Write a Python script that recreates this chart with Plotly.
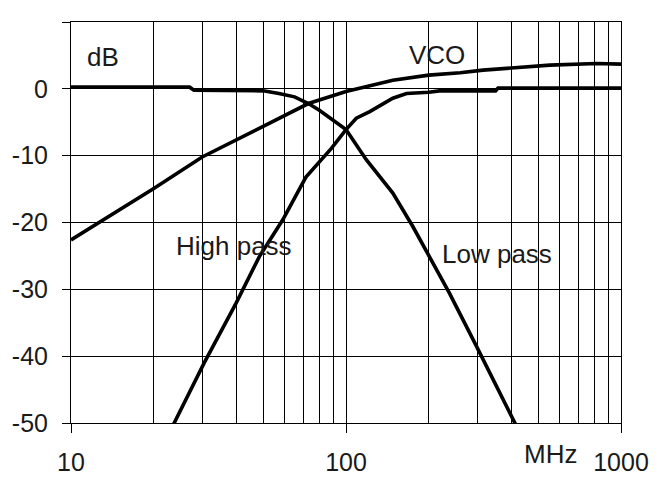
import plotly.graph_objects as go

# ---- data ----
vco_f  = [10, 20, 30, 40, 50, 60, 73, 100, 148, 200, 260, 315, 394, 551, 815, 1000]
vco_db = [-22.6, -14.9, -10.2, -7.6, -5.7, -4.0, -2.2, -0.4, 1.3, 2.05, 2.4, 2.8, 3.1, 3.55, 3.8, 3.7]

low_f  = [10, 27, 28, 50, 57, 65, 73, 80, 100, 118.5, 148, 175, 201, 238, 298, 352, 417]
low_db = [0.25, 0.25, -0.2, -0.3, -0.7, -1.2, -2.2, -3.2, -6.1, -10.6, -15.6, -20.6, -25.1, -30.6, -38.5, -44.5, -50.5]

high_f  = [23.4, 30.5, 39.8, 48.4, 58.9, 71.5, 88.5, 100, 109, 122, 148, 166, 200, 219, 350, 357, 1000]
high_db = [-50.5, -41.0, -32.1, -25.1, -19.6, -13.2, -8.9, -6.1, -4.4, -3.4, -1.4, -0.7, -0.5, -0.3, -0.3, 0.1, 0.1]

x_major = [10, 100, 1000]
x_major_text = ["10", "100", "1000"]
x_minor = [20, 30, 40, 50, 60, 70, 80, 90, 200, 300, 400, 500, 600, 700, 800, 900]
y_ticks = [10, 0, -10, -20, -30, -40, -50]
y_tick_text = ["10", "0", "-10", "-20", "-30", "-40", "-50"]

FONT = "Liberation Sans, Arial, sans-serif"
TXT = "#1a1a1a"

fig = go.Figure()
for fx, fy in [(low_f, low_db), (high_f, high_db), (vco_f, vco_db)]:
    fig.add_trace(go.Scatter(x=fx, y=fy, mode="lines",
                             line=dict(color="black", width=3.6),
                             showlegend=False, hoverinfo="skip"))

fig.update_xaxes(type="log", range=[1, 3], automargin=False,
                 tickvals=x_major, ticktext=x_major_text,
                 ticks="outside", ticklen=9, tickwidth=1, tickcolor="black",
                 showgrid=True, gridcolor="black", gridwidth=1,
                 minor=dict(tickvals=x_minor, showgrid=True, gridcolor="black",
                            gridwidth=1, ticks=""),
                 showline=True, linecolor="black", linewidth=1, mirror=True,
                 zeroline=False, ticklabelstandoff=8,
                 tickfont=dict(family=FONT, size=25, color=TXT))
fig.update_yaxes(range=[-50, 10], automargin=False,
                 tickvals=y_ticks, ticktext=y_tick_text,
                 ticks="outside", ticklen=8, tickwidth=1, tickcolor="black",
                 showgrid=True, gridcolor="black", gridwidth=1,
                 showline=True, linecolor="black", linewidth=1, mirror=True,
                 zeroline=False, ticklabelstandoff=9,
                 tickfont=dict(family=FONT, size=25, color=TXT))

labels = [("dB", 0.058, 0.912), ("VCO", 0.6655, 0.918),
          ("High pass", 0.296, 0.442), ("Low pass", 0.7745, 0.422),
          ("MHz", 0.871, -0.078)]
for t, xp, yp in labels:
    fig.add_annotation(text=t, x=xp, y=yp, xref="paper", yref="paper",
                       showarrow=False, xanchor="center", yanchor="middle",
                       font=dict(family=FONT, size=26, color=TXT))

fig.update_layout(width=657, height=470,
                  margin=dict(l=63, r=44, t=14, b=55, autoexpand=False),
                  paper_bgcolor="white", plot_bgcolor="white")

fig.write_html("out.html")
